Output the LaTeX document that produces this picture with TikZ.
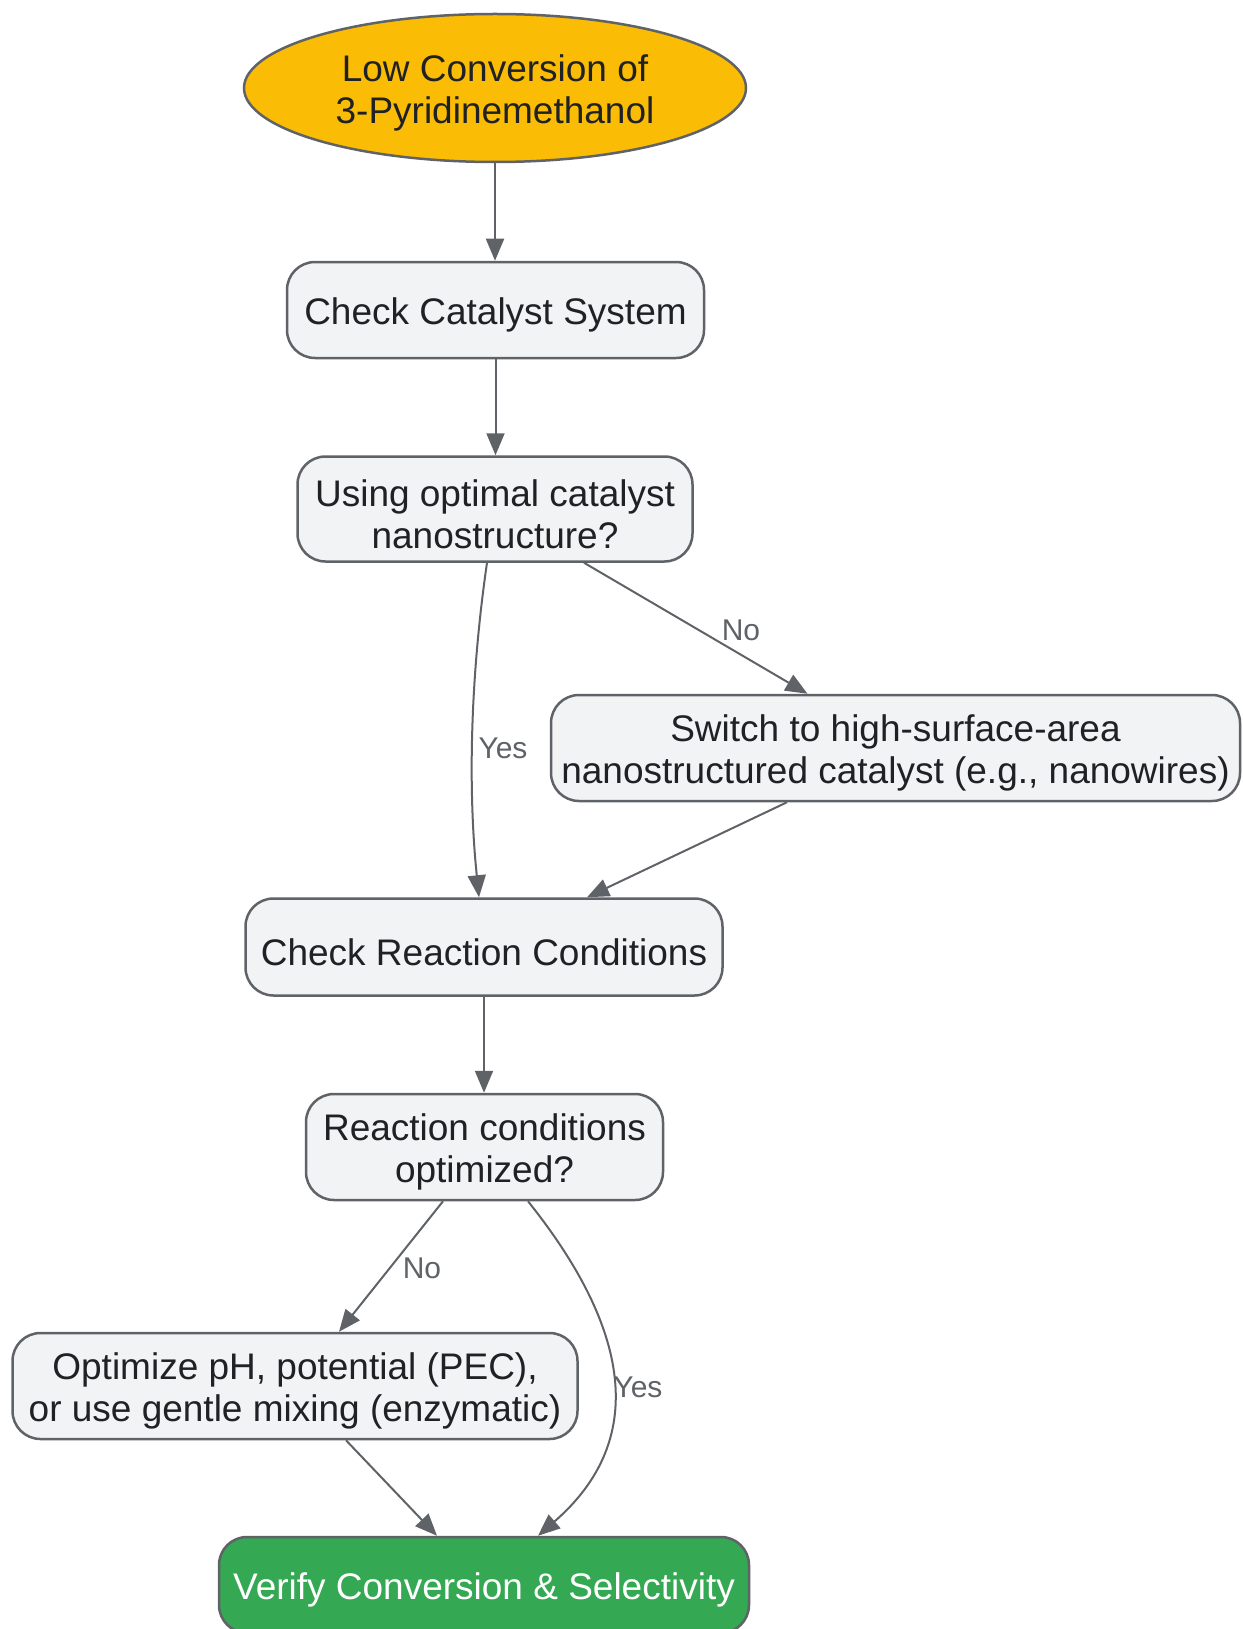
\documentclass[tikz,border=0pt]{standalone}
\usepackage{fontspec}
\setmainfont{Liberation Sans}
\usetikzlibrary{arrows.meta,shapes.geometric}
\definecolor{edgegray}{HTML}{5F6368}
\definecolor{boxfill}{HTML}{F1F3F4}
\definecolor{txt}{HTML}{202124}
\definecolor{startyellow}{HTML}{FBBC05}
\definecolor{endgreen}{HTML}{34A853}
\definecolor{labelgray}{HTML}{5F6368}
\newcommand{\topstrut}{\rule{0pt}{37pt}}
\begin{document}
\begin{tikzpicture}[x=1pt,y=-1pt,
  box/.style={draw=edgegray, line width=2.5pt, fill=boxfill, rounded corners=28pt,
    align=center, font=\fontsize{37}{42}\selectfont, text=txt, inner sep=0pt},
  startnode/.style={ellipse, draw=edgegray, line width=2.5pt, fill=startyellow,
    align=center, font=\fontsize{37}{42}\selectfont, text=txt, inner sep=0pt},
  conn/.style={draw=edgegray, line width=2pt, -{Triangle[length=22pt,width=18pt]}},
  lbl/.style={font=\fontsize{30}{36}\selectfont, text=labelgray, inner sep=0pt}]
\useasboundingbox (0,0) rectangle (1242,1629);

\node[startnode, minimum width=502pt, minimum height=148pt] (start) at (495,88)
  {\topstrut Low Conversion of\\3-Pyridinemethanol};
\node[box, minimum width=417pt, minimum height=96pt] (cat) at (495.5,310)
  {\topstrut Check Catalyst System};
\node[box, minimum width=395pt, minimum height=105pt] (using) at (495,509)
  {\topstrut Using optimal catalyst\\nanostructure?};
\node[box, minimum width=689pt, minimum height=106pt] (switch) at (895.5,748)
  {\topstrut Switch to high-surface-area\\nanostructured catalyst (e.g., nanowires)};
\node[box, minimum width=477pt, minimum height=97pt] (crx) at (484,947)
  {\topstrut Check Reaction Conditions};
\node[box, minimum width=357pt, minimum height=106pt] (rxo) at (484.5,1147)
  {\topstrut Reaction conditions\\optimized?};
\node[box, minimum width=565pt, minimum height=106pt] (opt) at (295,1386)
  {\topstrut Optimize pH, potential (PEC),\\or use gentle mixing (enzymatic)};
\node[box, fill=endgreen, text=white, minimum width=530pt, minimum height=96pt] (verify) at (484,1585)
  {\topstrut Verify Conversion \& Selectivity};

\draw[conn] (start.south) -- (start.south |- cat.north);
\draw[conn] (cat.south) -- (cat.south |- using.north);
\draw[conn] ([xshift=-8pt]using.south) .. controls (470,680) and (468,790) .. ([xshift=-5pt]crx.north);
\node[lbl] (yes1) at (503,748) {Yes};
\draw[conn] ([xshift=89pt]using.south) -- ([xshift=-88pt]switch.north);
\node[lbl] (no1) at (741,630) {No};
\draw[conn] ([xshift=-108.5pt]switch.south) -- ([xshift=103pt]crx.north);
\draw[conn] (crx.south) -- (crx.south |- rxo.north);
\draw[conn] ([xshift=-41.5pt]rxo.south) -- ([xshift=44pt]opt.north);
\node[lbl] (no2) at (422,1268) {No};
\draw[conn] ([xshift=43.5pt]rxo.south) .. controls (615,1310) and (660,1430) .. ([xshift=54pt]verify.north);
\node[lbl] (yes2) at (638,1387) {Yes};
\draw[conn] ([xshift=51pt]opt.south) -- ([xshift=-47pt]verify.north);
\end{tikzpicture}
\end{document}
